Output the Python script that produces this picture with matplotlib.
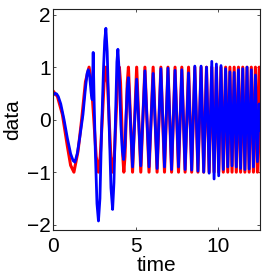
import matplotlib
matplotlib.use("Agg")
import matplotlib.pyplot as plt
import numpy as np

plt.rcParams['font.family'] = ['Liberation Sans', 'DejaVu Sans']

# red "data" curve: (time, value)
red_t = [0.0, 0.25, 0.55, 0.85, 1.05, 1.25, 1.5, 1.72, 1.95, 2.17,
         2.31, 2.46, 2.6, 2.74, 2.85, 2.97, 3.08, 3.19, 3.29, 3.39,
         3.49, 3.59, 3.7, 3.8, 3.9, 4.01, 4.08, 4.15, 4.22, 4.28,
         4.35, 4.42, 4.49, 4.56,
         4.81, 5.06, 5.31, 5.56, 5.81, 6.06, 6.3, 6.53, 6.75, 6.96,
         7.18, 7.39, 7.6, 7.8, 8.0, 8.21, 8.4, 8.59, 8.78, 8.97,
         9.13, 9.3, 9.46, 9.62, 9.76, 9.9, 10.04, 10.18, 10.32, 10.46,
         10.59, 10.72, 10.85, 10.98, 11.11, 11.24, 11.37, 11.5, 11.63, 11.76,
         11.89, 12.02, 12.15, 12.27, 12.39, 12.5, 12.62]
red_v = [0.54, 0.44, 0.1, -0.5, -0.87, -1.0, -0.6, 0.0, 0.72, 1.0,
         0.7, 0.0, -0.7, -1.0, -0.7, 0.0, 0.7, 1.0, 0.7, 0.0,
         -0.7, -1.0, -0.7, 0.0, 0.7, 1.0, 0.7, 0.0, -0.7, -1.0,
         -0.7, 0.0, 0.7, 1.0,
         -1, 1, -1, 1, -1, 1, -1, 1, -1, 1,
         -1, 1, -1, 1, -1, 1, -1, 1, -1, 1,
         -1, 1, -1, 1, -1, 1, -1, 1, -1, 1,
         -1, 1, -1, 1, -1, 1, -1, 1, -1, 1,
         -1, 1, -1, 1, -1, 1, -1]

# blue model curve: (time, value)
blue_t = [0.0, 0.1, 0.2, 0.3, 0.45, 0.65, 0.85, 1.05, 1.2, 1.31,
          1.45, 1.6, 1.8, 1.95, 2.05, 2.12, 2.2, 2.3, 2.36, 2.42,
          2.48, 2.55, 2.65, 2.74, 2.83, 2.93, 3.05, 3.12, 3.19, 3.27,
          3.38, 3.5, 3.6, 3.68, 3.78, 3.86, 3.92, 4.0, 4.1, 4.19,
          4.27, 4.35, 4.42, 4.49, 4.56,
          4.81, 5.06, 5.31, 5.56, 5.81, 6.06, 6.3, 6.53, 6.75, 6.96,
          7.18, 7.39, 7.6, 7.8, 8.0, 8.21, 8.4, 8.59, 8.78, 8.97,
          9.13, 9.3, 9.46, 9.62, 9.76, 9.9, 10.04, 10.18, 10.32, 10.46,
          10.59, 10.72, 10.85, 10.98, 11.11, 11.24, 11.37, 11.5, 11.63, 11.76,
          11.89, 12.02, 12.15, 12.27, 12.39, 12.5, 12.6]
blue_v = [0.47, 0.5, 0.49, 0.44, 0.3, 0.0, -0.35, -0.65, -0.78, -0.81,
          -0.65, -0.35, 0.1, 0.6, 0.88, 0.95, 0.85, 0.5, 0.38, 1.28,
          0.3, -0.6, -1.6, -1.93, -1.5, -0.2, 1.0, 1.5, 1.74, 1.3,
          0.0, -1.3, -1.71, -1.2, 0.1, 1.1, 1.34, 0.9, -0.1, -0.6,
          -0.76, -0.5, 0.1, 0.6, 0.8,
          -0.9, 0.77, -0.88, 0.93, -0.9, 0.88, -0.93, 0.97, -0.9, 0.98,
          -0.95, 0.94, -0.9, 0.95, -0.95, 0.89, -0.96, 1.02, -0.98, 1.02,
          -1.0, 1.0, -1.02, 1.11, -1.13, 1.06, -1.07, 1.03, -0.95, 0.97,
          -0.9, 0.91, -0.88, 0.9, -0.9, 0.95, -0.93, 0.97, -0.95, 1.0,
          -0.94, 0.95, -0.9, 0.85, -0.8, 0.3, -0.2]

x_ticks = [0, 5, 10]
y_ticks = [-2, -1, 0, 1, 2]

fig = plt.figure(figsize=(2.64, 2.76), dpi=100)
ax = fig.add_axes([0.202, 0.167, 0.784, 0.799])

ax.plot(red_t, red_v, color='#ff0000', lw=2.2, solid_joinstyle='round')
ax.plot(blue_t, blue_v, color='#0000ff', lw=2.0, solid_joinstyle='round')

ax.set_xlim(0, 4 * np.pi)
ax.set_ylim(-2.1, 2.1)
ax.set_xticks(x_ticks)
ax.set_yticks(y_ticks)
ax.tick_params(direction='in', length=2.5, width=0.6, top=True, right=True,
               labelsize=15, color='#333333')
ax.tick_params(axis='x', pad=5)
ax.tick_params(axis='y', pad=2)
for s in ax.spines.values():
    s.set_linewidth(0.8)
    s.set_color('#222222')

ax.set_xlabel('time', fontsize=15, labelpad=0)
ax.set_ylabel('data', fontsize=15, labelpad=3)

fig.savefig('out.png', dpi=100)
